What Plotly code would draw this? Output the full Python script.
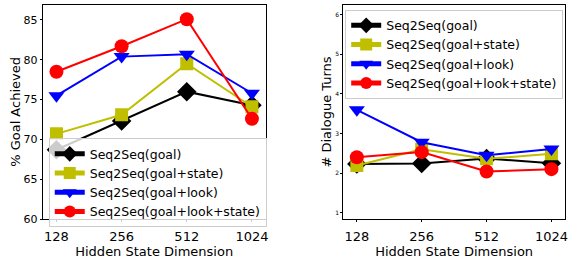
import plotly.graph_objects as go

dims = ["128", "256", "512", "1024"]
names = ["Seq2Seq(goal)", "Seq2Seq(goal+state)", "Seq2Seq(goal+look)", "Seq2Seq(goal+look+state)"]
colors = ["black", "#bfbf00", "blue", "red"]
symbols = ["diamond", "square", "triangle-down", "circle"]
msizes = [15, 13, 14, 14]

goal_achieved = [
    [68.7, 72.3, 76.0, 74.3],
    [70.7, 73.1, 79.5, 74.1],
    [75.5, 80.4, 80.7, 75.8],
    [78.5, 81.7, 85.1, 72.6],
]
dialogue_turns = [
    [2.23, 2.24, 2.37, 2.25],
    [2.19, 2.60, 2.36, 2.49],
    [3.60, 2.78, 2.45, 2.61],
    [2.40, 2.53, 2.04, 2.10],
]

left_yticks = [60, 65, 70, 75, 80, 85]
right_yticks = [1, 2, 3, 4, 5, 6]

fig = go.Figure()
for i, n in enumerate(names):
    fig.add_trace(go.Scatter(
        x=[0, 1, 2, 3], y=goal_achieved[i], name=n, mode="lines+markers",
        line=dict(color=colors[i], width=2),
        marker=dict(symbol=symbols[i], size=msizes[i], color=colors[i]),
        xaxis="x", yaxis="y", legend="legend"))
for i, n in enumerate(names):
    fig.add_trace(go.Scatter(
        x=[0, 1, 2, 3], y=dialogue_turns[i], name=n, mode="lines+markers",
        line=dict(color=colors[i], width=2),
        marker=dict(symbol=symbols[i], size=msizes[i], color=colors[i]),
        xaxis="x2", yaxis="y2", legend="legend2"))

font = "DejaVu Sans"
axcommon = dict(showgrid=False, zeroline=False, showline=True, linecolor="black",
                linewidth=1, mirror=True, ticks="outside", ticklen=2, tickcolor="black")

fig.update_layout(
    width=579, height=264,
    margin=dict(l=0, r=0, t=0, b=0),
    paper_bgcolor="white", plot_bgcolor="white",
    font=dict(family=font, color="black", size=13),
    xaxis=dict(domain=[43/579, 267/579], anchor="y", range=[-0.21, 3.21],
               tickvals=[0, 1, 2, 3], ticktext=dims, tickfont=dict(size=13),
               ticklabelstandoff=3,
               title=dict(text="Hidden State Dimension", font=dict(size=13), standoff=0), **axcommon),
    yaxis=dict(domain=[1-225/264, 1-5/264], anchor="x", range=[60, 86.9],
               tickvals=left_yticks, tickfont=dict(size=11),
               title=dict(text="% Goal Achieved", font=dict(size=13), standoff=0), **axcommon),
    xaxis2=dict(domain=[345/579, 568/579], anchor="y2", range=[-0.21, 3.21],
                tickvals=[0, 1, 2, 3], ticktext=dims, tickfont=dict(size=13),
                ticklabelstandoff=3,
                title=dict(text="Hidden State Dimension", font=dict(size=13), standoff=0), **axcommon),
    yaxis2=dict(domain=[1-225/264, 1-5/264], anchor="x2", range=[0.84, 6.25],
                tickvals=right_yticks, tickfont=dict(size=6),
                title=dict(text="# Dialogue Turns", font=dict(size=13), standoff=0), **axcommon),
    legend=dict(x=49/579, y=1-142/264, xanchor="left", yanchor="top",
                bgcolor="rgba(255,255,255,0.8)", bordercolor="#cccccc", borderwidth=1,
                font=dict(size=12.5), tracegroupgap=0, itemsizing="constant"),
    legend2=dict(x=347/579, y=1-10/264, xanchor="left", yanchor="top",
                 bgcolor="rgba(255,255,255,0.8)", bordercolor="#cccccc", borderwidth=1,
                 font=dict(size=12.5), tracegroupgap=0, itemsizing="constant"),
    showlegend=True,
)

fig.write_html("out.html", config={"displayModeBar": False},
               post_script="document.body.style.margin='0';")
